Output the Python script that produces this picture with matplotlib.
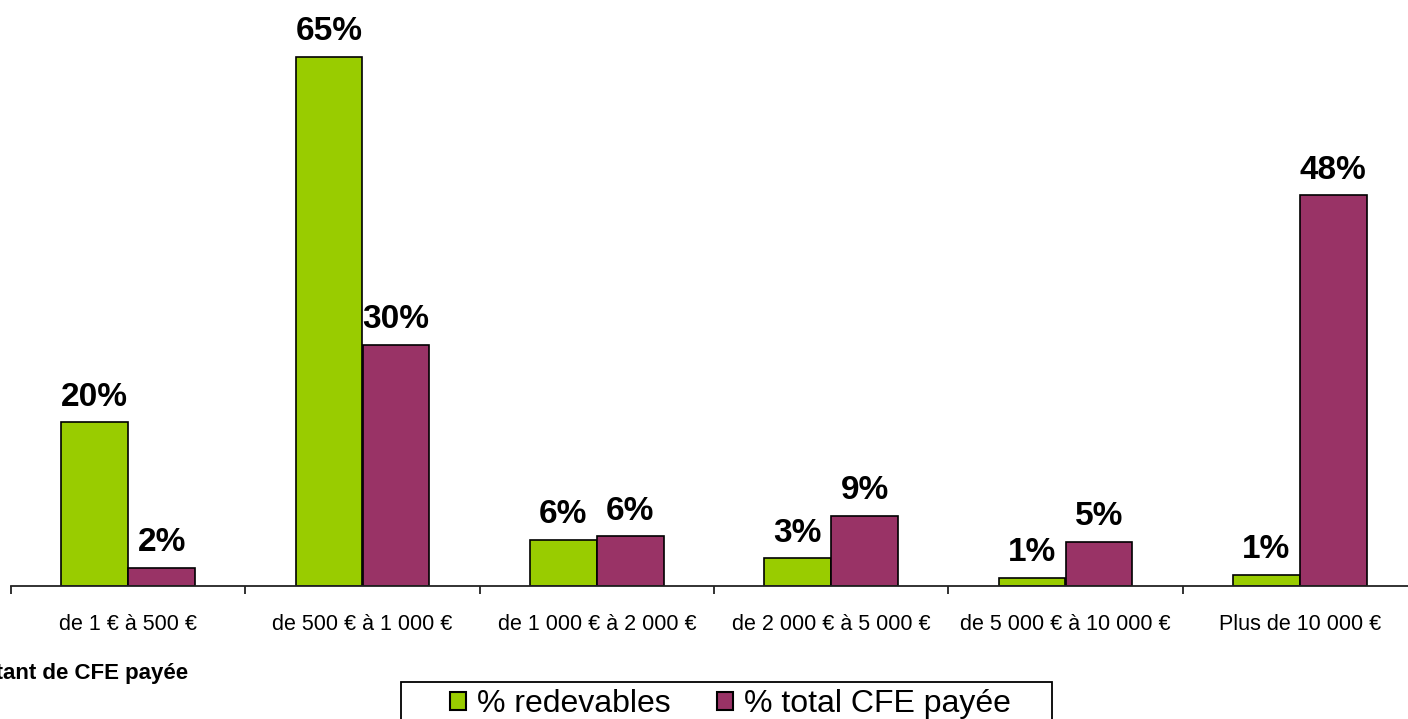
import numpy as np
import matplotlib.pyplot as plt
from matplotlib.patches import Rectangle

plt.rcParams['font.family'] = ['Liberation Sans', 'DejaVu Sans']

# tranches de CFE
categories = ['de 1 € à 500 €', 'de 500 € à 1 000 €', 'de 1 000 € à 2 000 €',
              'de 2 000 € à 5 000 €', 'de 5 000 € à 10 000 €', 'Plus de 10 000 €']
redevables = [20.1, 65.0, 5.7, 3.4, 1.0, 1.4]
total_cfe = [2.2, 29.6, 6.1, 8.6, 5.4, 48.0]
series_names = ['% redevables', '% total CFE payée']
xlabel = 'Montant de CFE payée'

vert = '#99CC00'
bordeaux = '#993366'

fig = plt.figure(figsize=(14.08, 7.19), dpi=100)
ax = fig.add_axes([11/1408, 133/719, 1406/1408, 0.79])

x = np.arange(len(categories))
w = 1 / 3.5
b1 = ax.bar(x - w/2, redevables, w, color=vert, edgecolor='black', linewidth=1.2, label=series_names[0])
b2 = ax.bar(x + w/2, total_cfe, w, color=bordeaux, edgecolor='black', linewidth=1.2, label=series_names[1])

for bars, vals in [(b1, redevables), (b2, total_cfe)]:
    for r, v in zip(bars, vals):
        ax.annotate(f'{v:.0f}%', (r.get_x() + r.get_width()/2, v),
                    xytext=(0, 12), textcoords='offset points',
                    ha='center', va='baseline', fontsize=24, fontweight='bold')

ax.set_xlim(-0.5, len(categories) - 0.5)
ax.set_ylim(0, 69.8)
for s in ['top', 'right', 'left']:
    ax.spines[s].set_visible(False)
ax.spines['bottom'].set_color('#222222')
ax.spines['bottom'].set_linewidth(1.3)
ax.set_yticks([])

ax.set_xticks(x)
ax.set_xticklabels(categories, fontsize=15.5)
ax.tick_params(axis='x', which='major', length=0, pad=20)
ax.set_xticks(np.arange(len(categories) + 1) - 0.5, minor=True)
ax.tick_params(axis='x', which='minor', length=6, width=1.3, color='#222222')

fig.text(188/1408, 1 - 673/719, xlabel, ha='right', va='center', fontsize=16, fontweight='bold')

# cadre de la légende, coupé par le bas de la figure
fig.patches.append(Rectangle((401/1408, -0.05), 651/1408, 0.05 + 37/719,
                             transform=fig.transFigure, fill=False,
                             edgecolor='black', linewidth=1.3))
leg = fig.legend(loc='upper left', bbox_to_anchor=(450/1408, 1 - 689/719), ncol=2,
                 fontsize=23, frameon=False,
                 handlelength=0.5, handleheight=0.5, handletextpad=0.35,
                 columnspacing=1.45, borderpad=0, borderaxespad=0)
for h in leg.legend_handles:
    h.set_edgecolor('black')
    h.set_linewidth(1.5)

fig.savefig('out.png', dpi=100)
